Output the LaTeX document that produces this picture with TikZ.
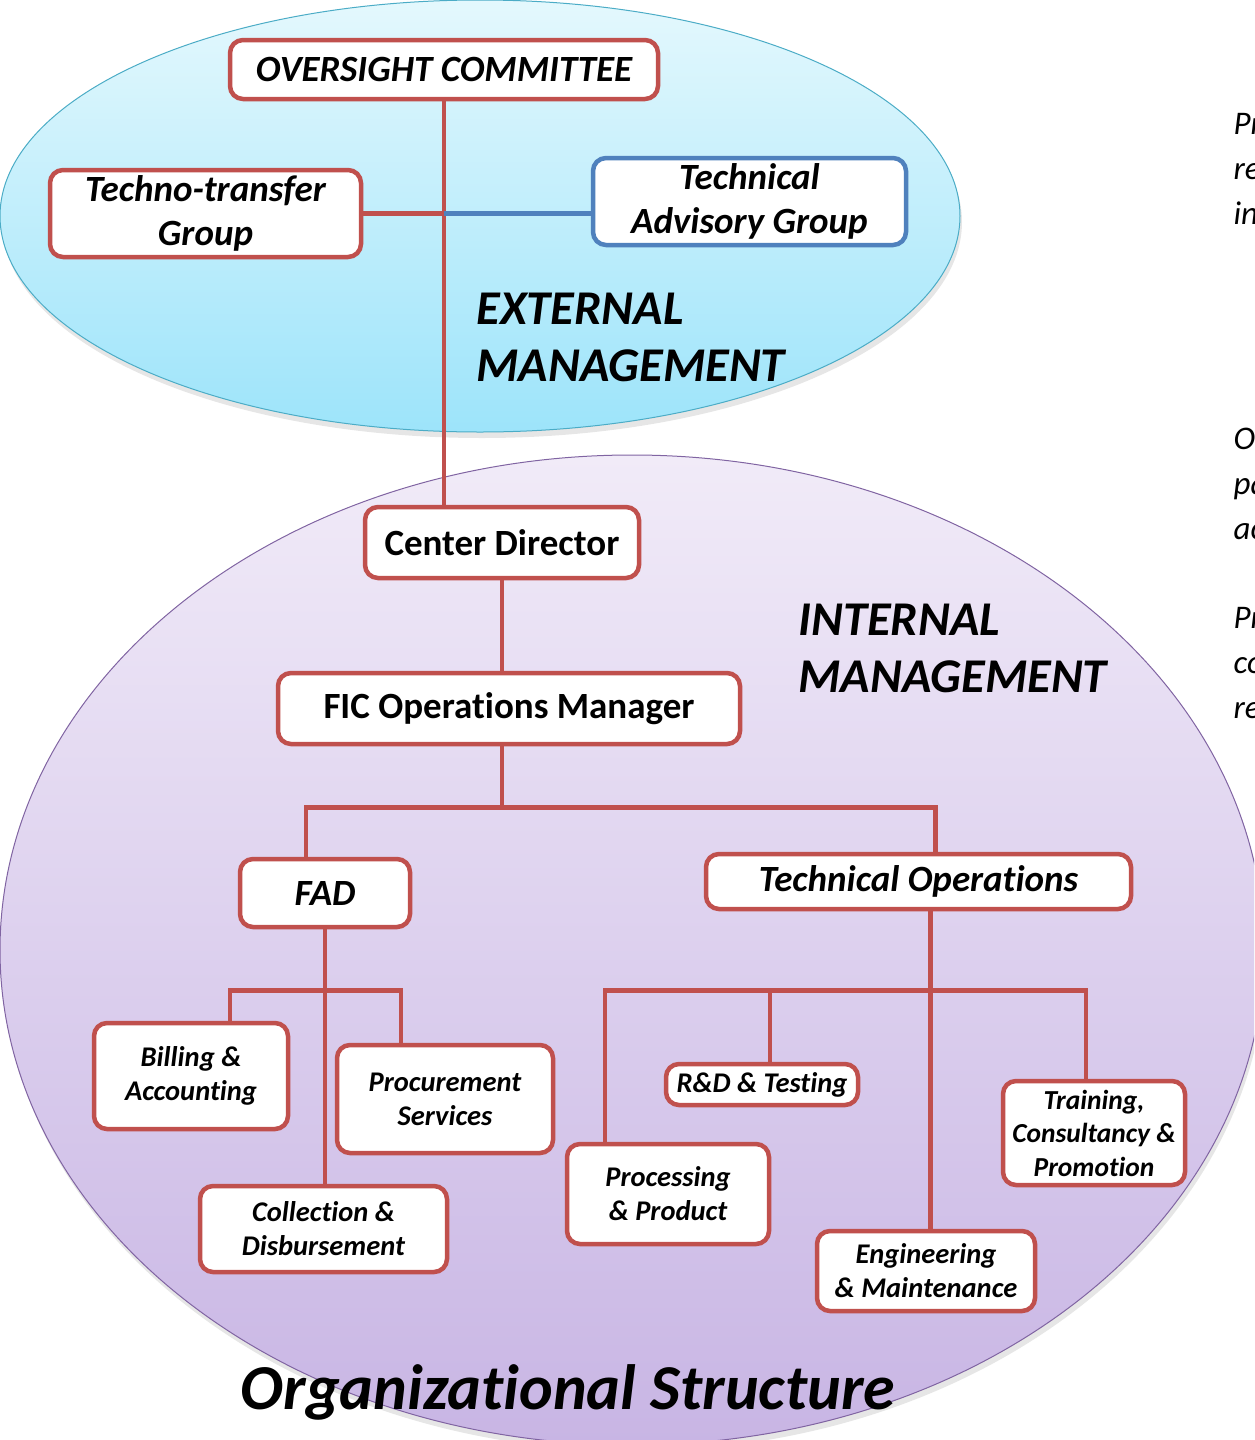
\documentclass[tikz,border=0pt]{standalone}
\usepackage{fontspec}
\setmainfont{Carlito}[Ligatures=NoCommon]
\usetikzlibrary{shadows}

\definecolor{boxred}{HTML}{C0504D}
\definecolor{boxblue}{HTML}{4F81BD}
\definecolor{extline}{HTML}{4BACC6}
\definecolor{exttop}{HTML}{E4F8FD}
\definecolor{extbot}{HTML}{9DE4FA}
\definecolor{intline}{HTML}{8064A2}
\definecolor{inttop}{HTML}{F1EBF8}
\definecolor{intbot}{HTML}{C8B5E4}

\begin{document}
\begin{tikzpicture}[x=1pt,y=-1pt,
    box/.style={draw=boxred, line width=4.5pt, fill=white, rounded corners=13pt,
        inner sep=0pt, align=center, font=\fontsize{37}{44}\selectfont\bfseries\itshape},
    unit/.style={box, font=\fontsize{28.5}{34}\selectfont\bfseries\itshape},
    link/.style={draw=boxred, line width=4.5pt},
    heading/.style={anchor=west, align=left, font=\fontsize{48.5}{57}\selectfont\bfseries\itshape},
    frag/.style={anchor=base west, font=\fontsize{33}{33}\selectfont\itshape},
    ]

\useasboundingbox (0,0) rectangle (1254,1440);
\clip (0,0) rectangle (1254,1440);

%-------------------------------------------- Management areas
\shade[drop shadow={opacity=0.2,shadow xshift=2pt,shadow yshift=-6pt},
    top color=exttop, bottom color=extbot, draw=extline, line width=1pt]
    (480,216) ellipse [x radius=480pt, y radius=216pt];
\shade[drop shadow={opacity=0.2,shadow xshift=2pt,shadow yshift=-6pt},
    top color=inttop, bottom color=intbot, draw=intline, line width=1pt]
    (632,950) ellipse [x radius=632pt, y radius=495pt];

\node[heading] (extlabel) at (473,337) {EXTERNAL\\MANAGEMENT};
\node[heading] (intlabel) at (795,648) {INTERNAL\\MANAGEMENT};

%-------------------------------------------- External boxes
\node[box, minimum width=428, minimum height=59] (oversight) at (444,69.5) {OVERSIGHT COMMITTEE};
\node[box, minimum width=311, minimum height=87] (techno) at (205.5,213.5) {Techno-transfer\\Group};
\node[box, draw=boxblue, minimum width=313, minimum height=87] (advisory) at (749.5,201.5) {Technical\\Advisory Group};

%-------------------------------------------- Internal boxes
\node[box, font=\fontsize{37}{40}\selectfont\bfseries, minimum width=274, minimum height=71] (director) at (502,542.5) {Center Director};
\node[box, font=\fontsize{37}{40}\selectfont\bfseries, minimum width=462, minimum height=71] (manager) at (509,708.5) {FIC Operations Manager};
\node[box, minimum width=170, minimum height=68] (fad) at (325,893) {FAD};
\node[box, minimum width=425, minimum height=55] (techops) at (918.5,881.5) {Technical Operations};

% FAD units
\node[unit, minimum width=194, minimum height=106] (billing) at (191,1076) {Billing \&\\Accounting};
\node[unit, minimum width=216, minimum height=108] (procure) at (445,1099) {Procurement\\Services};
\node[unit, minimum width=247, minimum height=86] (collect) at (323.5,1229) {Collection \&\\Disbursement};

% Technical units
\node[unit, minimum width=192, minimum height=41] (rnd) at (762,1084.5) {R\&D \& Testing};
\node[unit, minimum width=202, minimum height=100] (process) at (668,1194) {Processing\\\& Product};
\node[unit, minimum width=218, minimum height=80] (engineer) at (926,1271) {Engineering\\\& Maintenance};
\node[unit, font=\fontsize{27.5}{33.5}\selectfont\bfseries\itshape, minimum width=182, minimum height=104] (training) at (1094,1133) {Training,\\Consultancy \&\\Promotion};

%-------------------------------------------- Connectors
\draw[link] (oversight.south) -- (oversight.south |- director.north);
\draw[link] (techno.east) -- (techno.east -| oversight.south) coordinate (tjoin);
\draw[draw=boxblue, line width=4.5pt] (tjoin) -- (advisory.west |- tjoin);

\draw[link] (director.south) -- (director.south |- manager.north);
\draw[link] (director.south |- manager.south) -- ++(0,61) coordinate (mbus);
\draw[link] ([xshift=-19pt]fad.north) |- (mbus) -| ([xshift=17pt]techops.north);

    \draw[link] (fad.south) -- (fad.south |- collect.north);    % FAD spine
    \path (fad.south) ++(0,61) coordinate (fbus);
    \draw[link] ([xshift=39pt]billing.north) |- (fbus) -| ([xshift=-44pt]procure.north);

    \draw[link] ([xshift=12pt]techops.south) -- ([xshift=12pt]techops.south |- engineer.north);    % Technical spine
    \path ([xshift=12pt]techops.south) ++(0,79) coordinate (tbus);
    \draw[link] ([xshift=-63pt]process.north) |- (tbus) -| ([xshift=-8pt]training.north);
    \draw[link] ([xshift=8pt]rnd.north) -- ([xshift=8pt]rnd.north |- tbus);

%-------------------------------------------- Title
\node[font=\fontsize{64}{64}\selectfont\bfseries\itshape] (title) at (568,1392) {Organizational Structure};

%-------------------------------------------- Cut text at the right edge
\node[frag] (fa) at (1230,134) {Pr};
\node[frag] (fb) at (1230,179) {re};
\node[frag] (fc) at (1230,224) {in};
\node[frag] (fd) at (1230,449) {O};
\node[frag] (fe) at (1230,494) {pa};
\node[frag] (ff) at (1230,539) {ac};
\node[frag] (fg) at (1230,628) {Pr};
\node[frag] (fh) at (1230,673) {co};
\node[frag] (fi) at (1230,718) {re};

\end{tikzpicture}
\end{document}
